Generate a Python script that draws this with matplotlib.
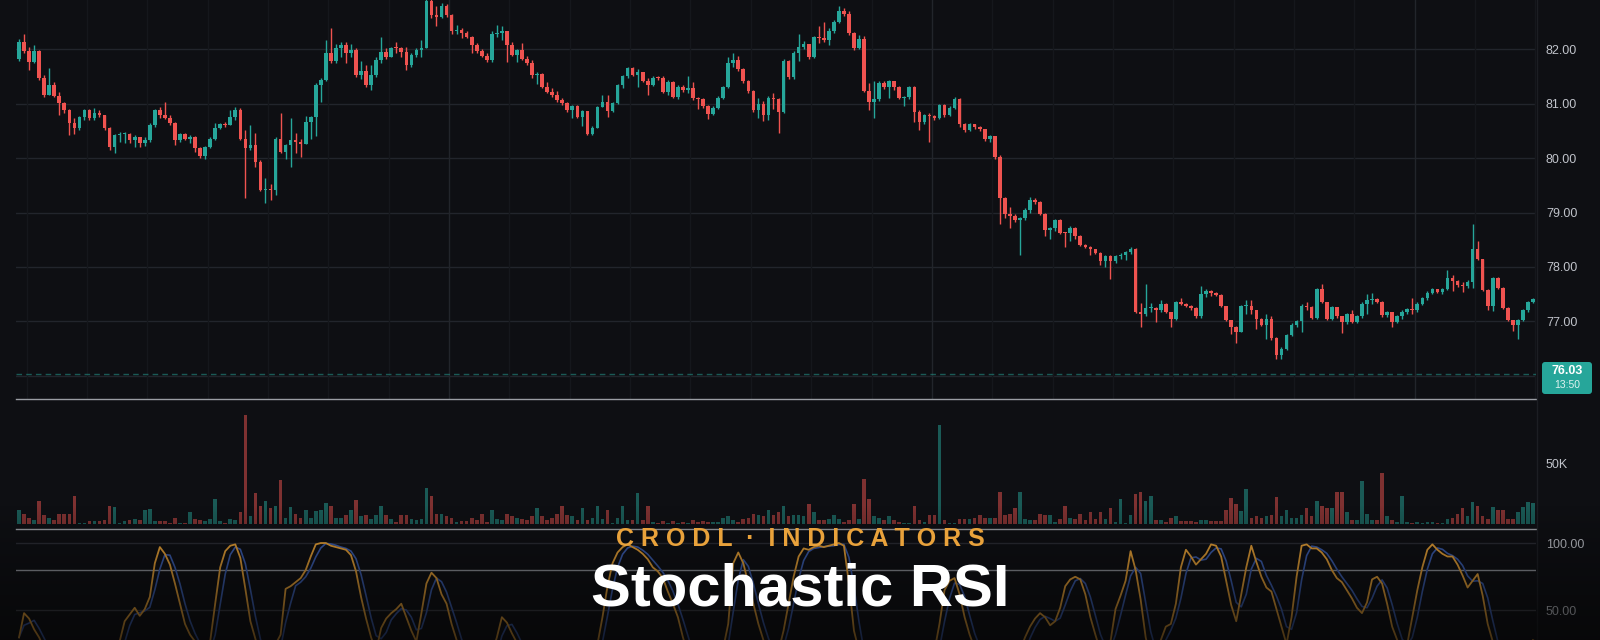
import numpy as np
import pandas as pd
import matplotlib
matplotlib.use("Agg")
import matplotlib.pyplot as plt
from matplotlib.lines import Line2D
from matplotlib.patches import FancyBboxPatch
from matplotlib.transforms import IdentityTransform

plt.rcParams['font.family'] = ['Liberation Sans', 'DejaVu Sans']

# colours
BG = '#0e0f13'
UP = '#26a69a'
DOWN = '#ef5350'
VOL_UP = '#1a5a56'
VOL_DOWN = '#7e3131'
LABEL = '#c0c3ca'

# ---- data (5 min candles) ----
first_open = 81.82
closes = [
    82.14, 81.96, 81.77, 81.96, 81.48, 81.16, 81.34, 81.14, 81.02, 80.88,
    80.64, 80.55, 80.76, 80.88, 80.73, 80.83, 80.79, 80.55, 80.21, 80.42,
    80.44, 80.45, 80.33, 80.38, 80.28, 80.33, 80.61, 80.88, 80.79, 80.73,
    80.65, 80.34, 80.44, 80.36, 80.39, 80.18, 80.04, 80.21, 80.36, 80.55,
    80.63, 80.61, 80.75, 80.88, 80.36, 80.18, 80.24, 79.93, 79.41, 79.44,
    79.41, 80.36, 80.12, 80.24, 80.34, 80.29, 80.25, 80.66, 80.75, 81.34,
    81.44, 81.94, 81.79, 82.03, 82.08, 81.94, 81.98, 81.53, 81.60, 81.34,
    81.53, 81.80, 81.95, 81.86, 82.03, 82.02, 81.95, 81.71, 81.90, 81.98,
    82.03, 82.88, 82.63, 82.60, 82.79, 82.63, 82.33, 82.36, 82.30, 82.23,
    82.08, 81.96, 81.88, 81.80, 82.29, 82.30, 82.33, 82.08, 81.90, 81.99,
    81.83, 81.74, 81.53, 81.55, 81.30, 81.22, 81.16, 81.07, 81.01, 80.88,
    80.96, 80.75, 80.87, 80.45, 80.56, 80.94, 81.04, 80.87, 81.02, 81.34,
    81.50, 81.65, 81.53, 81.59, 81.42, 81.34, 81.48, 81.47, 81.22, 81.40,
    81.13, 81.31, 81.25, 81.28, 81.10, 81.08, 80.95, 80.81, 80.92, 81.11,
    81.30, 81.75, 81.80, 81.64, 81.41, 81.23, 80.89, 81.00, 80.80, 81.11,
    81.08, 80.85, 81.79, 81.49, 81.94, 82.05, 82.09, 81.86, 82.23, 82.20,
    82.17, 82.33, 82.50, 82.71, 82.65, 82.30, 82.02, 82.18, 81.23, 81.04,
    81.08, 81.38, 81.30, 81.42, 81.30, 81.11, 81.12, 81.30, 80.85, 80.66,
    80.79, 80.77, 80.74, 80.98, 80.79, 80.92, 81.08, 80.62, 80.51, 80.62,
    80.57, 80.53, 80.35, 80.40, 80.02, 79.27, 78.97, 78.93, 78.86, 78.89,
    79.05, 79.23, 79.20, 78.97, 78.67, 78.71, 78.86, 78.63, 78.62, 78.71,
    78.57, 78.41, 78.37, 78.32, 78.26, 78.11, 78.20, 78.11, 78.20, 78.22,
    78.27, 78.32, 77.17, 77.13, 77.24, 77.25, 77.20, 77.32, 77.17, 77.05,
    77.35, 77.32, 77.29, 77.24, 77.09, 77.50, 77.56, 77.52, 77.49, 77.28,
    77.02, 76.90, 76.81, 77.28, 77.29, 77.20, 77.05, 76.94, 77.05, 76.69,
    76.38, 76.49, 76.75, 76.94, 77.00, 77.28, 77.26, 77.07, 77.59, 77.35,
    77.05, 77.26, 77.09, 76.98, 77.13, 76.99, 77.09, 77.32, 77.39, 77.41,
    77.35, 77.11, 77.17, 76.98, 77.09, 77.17, 77.22, 77.20, 77.32, 77.43,
    77.52, 77.59, 77.54, 77.59, 77.80, 77.74, 77.66, 77.65, 77.73, 78.32,
    78.14, 77.58, 77.28, 77.80, 77.62, 77.24, 77.02, 76.94, 77.02, 77.20,
    77.35, 77.41,
]
highs = [
    82.18, 82.29, 82.04, 82.08, 81.98, 81.53, 81.65, 81.40, 81.22, 81.04,
    80.91, 80.73, 80.77, 80.91, 80.91, 80.93, 80.88, 80.79, 80.58, 80.45,
    80.48, 80.48, 80.47, 80.42, 80.39, 80.39, 80.64, 80.91, 80.94, 81.04,
    80.79, 80.67, 80.47, 80.47, 80.42, 80.41, 80.21, 80.23, 80.39, 80.64,
    80.65, 80.67, 80.88, 80.94, 80.93, 80.52, 80.61, 80.47, 79.96, 79.63,
    79.53, 80.38, 80.82, 80.26, 80.73, 80.47, 80.36, 80.77, 80.77, 81.38,
    81.47, 82.17, 82.39, 82.09, 82.13, 82.13, 82.09, 82.03, 81.79, 81.71,
    81.71, 81.86, 82.23, 82.03, 82.05, 82.13, 82.05, 82.05, 81.94, 82.03,
    82.17, 82.95, 82.92, 82.79, 82.85, 82.83, 82.65, 82.45, 82.39, 82.33,
    82.25, 82.12, 82.00, 81.93, 82.33, 82.45, 82.42, 82.33, 82.14, 82.01,
    82.11, 81.87, 81.80, 81.59, 81.57, 81.40, 81.28, 81.23, 81.10, 81.04,
    80.98, 80.98, 80.88, 80.87, 80.59, 80.96, 81.16, 81.16, 81.04, 81.37,
    81.53, 81.68, 81.68, 81.63, 81.59, 81.48, 81.51, 81.50, 81.51, 81.44,
    81.42, 81.34, 81.34, 81.51, 81.40, 81.13, 81.10, 80.97, 80.95, 81.14,
    81.33, 81.86, 81.94, 81.87, 81.66, 81.44, 81.25, 81.11, 81.05, 81.15,
    81.20, 81.11, 81.82, 81.80, 81.97, 82.28, 82.15, 82.10, 82.25, 82.42,
    82.50, 82.39, 82.53, 82.80, 82.76, 82.70, 82.32, 82.26, 82.25, 81.38,
    81.41, 81.42, 81.41, 81.44, 81.42, 81.32, 81.15, 81.33, 81.32, 80.88,
    80.81, 80.83, 80.80, 81.00, 80.99, 80.95, 81.12, 81.10, 80.64, 80.65,
    80.63, 80.59, 80.54, 80.43, 80.40, 80.05, 79.28, 79.10, 78.98, 78.92,
    79.08, 79.29, 79.26, 79.21, 78.99, 78.74, 78.88, 78.88, 78.65, 78.76,
    78.74, 78.59, 78.42, 78.39, 78.33, 78.27, 78.22, 78.22, 78.22, 78.25,
    78.29, 78.37, 78.34, 77.34, 77.69, 77.34, 77.26, 77.39, 77.33, 77.18,
    77.37, 77.43, 77.34, 77.30, 77.26, 77.65, 77.59, 77.57, 77.53, 77.50,
    77.29, 77.03, 76.92, 77.30, 77.39, 77.39, 77.21, 77.06, 77.13, 77.09,
    76.72, 76.52, 76.77, 76.97, 77.02, 77.32, 77.35, 77.28, 77.62, 77.69,
    77.36, 77.28, 77.27, 77.10, 77.15, 77.20, 77.11, 77.35, 77.50, 77.52,
    77.42, 77.37, 77.19, 77.18, 77.11, 77.20, 77.25, 77.43, 77.35, 77.45,
    77.55, 77.61, 77.60, 77.61, 77.95, 77.86, 77.76, 77.73, 77.76, 78.78,
    78.48, 78.15, 77.59, 77.82, 77.81, 77.63, 77.26, 77.03, 77.04, 77.22,
    77.37, 77.43,
]
lows = [
    81.79, 81.93, 81.62, 81.74, 81.44, 81.13, 81.16, 81.12, 80.79, 80.82,
    80.42, 80.45, 80.52, 80.70, 80.70, 80.70, 80.76, 80.52, 80.15, 80.09,
    80.30, 80.27, 80.27, 80.21, 80.21, 80.23, 80.30, 80.58, 80.73, 80.71,
    80.61, 80.24, 80.30, 80.33, 80.27, 80.12, 80.01, 79.99, 80.18, 80.34,
    80.53, 80.58, 80.61, 80.70, 80.33, 79.26, 80.15, 79.84, 79.40, 79.17,
    79.23, 79.32, 80.09, 79.98, 79.84, 80.10, 80.02, 80.25, 80.36, 80.40,
    81.04, 81.41, 81.75, 81.75, 81.86, 81.75, 81.86, 81.49, 81.45, 81.30,
    81.26, 81.49, 81.75, 81.83, 81.86, 81.94, 81.86, 81.62, 81.68, 81.86,
    81.86, 82.02, 82.57, 82.42, 82.57, 82.60, 82.29, 82.29, 82.20, 82.20,
    81.93, 81.93, 81.85, 81.77, 81.77, 82.23, 82.17, 81.77, 81.87, 81.77,
    81.80, 81.71, 81.48, 81.37, 81.28, 81.19, 81.13, 81.04, 80.98, 80.85,
    80.73, 80.73, 80.59, 80.42, 80.42, 80.55, 80.94, 80.76, 80.85, 80.99,
    81.28, 81.47, 81.50, 81.31, 81.40, 81.16, 81.32, 81.44, 81.20, 81.16,
    81.10, 81.08, 81.22, 81.19, 81.07, 80.90, 80.92, 80.72, 80.79, 80.90,
    81.08, 81.28, 81.68, 81.60, 81.38, 81.20, 80.85, 80.74, 80.68, 80.70,
    80.90, 80.47, 80.83, 81.45, 81.46, 81.79, 82.00, 81.82, 81.84, 82.12,
    82.13, 82.08, 82.30, 82.48, 82.62, 82.27, 81.98, 82.00, 81.21, 80.89,
    80.74, 81.05, 81.27, 81.11, 81.26, 81.08, 80.95, 81.08, 80.66, 80.51,
    80.62, 80.29, 80.70, 80.72, 80.75, 80.78, 80.90, 80.58, 80.48, 80.49,
    80.54, 80.50, 80.32, 80.30, 79.98, 78.78, 78.90, 78.71, 78.82, 78.22,
    78.87, 79.00, 79.16, 78.95, 78.56, 78.52, 78.66, 78.60, 78.37, 78.48,
    78.52, 78.38, 78.34, 78.22, 78.23, 78.03, 77.99, 77.77, 78.08, 78.14,
    78.12, 78.24, 77.15, 76.90, 77.09, 77.18, 76.98, 77.18, 77.15, 76.90,
    77.03, 77.30, 77.26, 77.20, 77.06, 77.07, 77.44, 77.46, 77.46, 77.26,
    77.00, 76.77, 76.60, 76.80, 77.13, 77.13, 76.86, 76.92, 76.68, 76.66,
    76.30, 76.30, 76.47, 76.73, 76.90, 76.80, 77.20, 77.04, 77.05, 77.33,
    77.02, 77.03, 77.06, 76.79, 76.95, 76.96, 76.96, 77.07, 77.13, 77.32,
    77.33, 77.08, 77.08, 76.90, 76.96, 77.05, 77.14, 77.13, 77.18, 77.30,
    77.40, 77.50, 77.52, 77.50, 77.57, 77.56, 77.63, 77.54, 77.62, 77.62,
    78.12, 77.55, 77.20, 77.19, 77.60, 77.22, 77.00, 76.83, 76.68, 77.00,
    77.18, 77.33,
]
# volume in thousands
volume_k = [
    11.7, 7.7, 5.0, 2.7, 18.5, 7.0, 5.0, 2.7, 8.4, 8.4,
    8.4, 22.5, 1.0, 1.0, 2.3, 2.0, 2.0, 2.7, 15.0, 13.8,
    1.0, 2.0, 2.7, 3.7, 2.7, 11.7, 12.0, 2.3, 2.3, 2.3,
    1.0, 4.4, 1.0, 1.0, 9.4, 4.0, 2.7, 2.3, 3.7, 20.5,
    2.0, 1.0, 3.7, 2.7, 9.4, 89.6, 6.0, 25.2, 14.4, 18.5,
    12.8, 14.4, 35.9, 5.0, 13.4, 7.7, 4.4, 11.7, 5.0, 10.4,
    11.0, 17.0, 14.4, 4.4, 4.4, 7.0, 11.7, 19.5, 6.0, 7.0,
    3.7, 7.0, 15.0, 7.0, 3.7, 1.7, 7.0, 7.0, 3.7, 2.7,
    3.7, 29.5, 22.5, 8.4, 8.4, 6.0, 5.0, 1.7, 2.3, 2.3,
    4.4, 2.7, 8.4, 1.7, 11.0, 3.7, 2.7, 7.7, 6.0, 4.4,
    3.7, 2.7, 6.0, 12.8, 6.0, 2.7, 4.4, 8.4, 15.0, 7.0,
    6.0, 2.7, 12.8, 2.7, 4.4, 14.4, 3.7, 11.7, 1.0, 5.0,
    14.4, 2.7, 2.7, 25.2, 2.7, 15.0, 1.7, 1.0, 2.3, 1.0,
    2.0, 1.0, 1.7, 1.0, 2.7, 1.7, 2.0, 1.3, 1.3, 1.7,
    4.4, 6.0, 2.7, 1.7, 3.7, 4.4, 8.4, 7.0, 6.0, 11.0,
    7.0, 9.4, 14.4, 6.0, 7.0, 7.0, 6.0, 16.0, 9.4, 2.7,
    2.7, 3.7, 7.0, 3.7, 1.7, 2.7, 16.0, 3.7, 37.2, 20.5,
    6.0, 5.0, 2.7, 6.0, 2.7, 1.7, 1.0, 1.0, 14.4, 2.7,
    1.7, 7.0, 7.0, 80.9, 2.7, 1.0, 1.0, 3.7, 3.7, 3.7,
    5.0, 7.0, 4.4, 5.0, 5.0, 26.2, 7.0, 8.4, 12.8, 26.2,
    3.7, 2.7, 2.7, 8.4, 7.0, 7.0, 1.7, 3.7, 14.4, 5.0,
    3.7, 8.4, 2.7, 9.4, 3.7, 9.4, 3.7, 12.8, 1.7, 20.5,
    1.0, 7.0, 24.5, 26.2, 18.5, 22.8, 2.7, 2.7, 1.7, 5.0,
    6.0, 2.3, 2.3, 2.3, 1.7, 2.7, 2.7, 2.0, 2.0, 2.0,
    11.0, 21.0, 16.0, 10.4, 28.5, 5.0, 6.0, 5.0, 6.0, 7.0,
    21.8, 6.0, 11.7, 4.4, 4.4, 7.0, 12.8, 6.0, 18.5, 14.4,
    12.8, 12.8, 26.2, 26.2, 9.4, 2.7, 2.7, 35.2, 8.4, 2.7,
    2.7, 42.0, 6.0, 2.7, 1.7, 22.8, 1.7, 1.0, 1.7, 1.0,
    1.7, 1.7, 1.0, 1.0, 3.7, 5.0, 8.4, 12.8, 6.0, 17.8,
    15.0, 6.0, 3.7, 13.8, 11.7, 11.0, 3.7, 3.7, 9.4, 13.8,
    17.8, 17.0,
]
# Stochastic RSI %K (orange)
stoch_k = [
    30, 48, 44, 36, 30, 22, 15, 10, 6, 3,
    0, 0, 4, 10, 16, 22, 18, 12, 4, 10,
    27, 42, 47, 52, 46, 51, 60, 85, 97, 92,
    84, 70, 55, 40, 32, 27, 18, 14, 27, 55,
    82, 94, 98, 99, 89, 66, 42, 29, 15, 6,
    10, 25, 32, 66, 68, 71, 74, 80, 90, 99,
    100, 100, 98, 97, 96, 95, 91, 79, 60, 44,
    30, 20, 37, 44, 48, 51, 55, 45, 35, 27,
    48, 70, 78, 74, 62, 55, 40, 28, 18, 12,
    6, 2, 0, 4, 18, 30, 45, 41, 33, 26,
    18, 10, 4, 2, 0, 0, 0, 0, 0, 2,
    6, 4, 8, 4, 10, 25, 45, 68, 85, 93,
    97, 99, 97, 95, 92, 88, 82, 79, 74, 64,
    55, 45, 30, 18, 10, 6, 2, 0, 4, 12,
    22, 40, 85, 93, 85, 70, 55, 40, 28, 20,
    14, 20, 35, 55, 75, 90, 96, 95, 97, 98,
    97, 98, 99, 100, 98, 70, 35, 20, 5, 0,
    0, 4, 6, 10, 8, 4, 2, 6, 2, 0,
    2, 6, 20, 40, 65, 72, 74, 62, 45, 32,
    22, 16, 8, 6, 2, 0, 0, 2, 8, 20,
    30, 38, 44, 48, 45, 39, 42, 52, 68, 73,
    75, 73, 62, 45, 32, 20, 18, 27, 51, 61,
    72, 94, 80, 58, 30, 15, 18, 28, 38, 40,
    55, 82, 95, 90, 84, 88, 92, 99, 98, 90,
    72, 54, 42, 62, 82, 98, 86, 75, 67, 64,
    51, 38, 25, 45, 75, 98, 99, 96, 96, 93,
    88, 80, 74, 71, 65, 59, 52, 48, 56, 73,
    75, 70, 55, 38, 28, 20, 25, 45, 65, 82,
    95, 99, 95, 92, 90, 90, 84, 76, 67, 72,
    77, 61, 40, 27, 15, 5, 0, 0, 5, 12,
    20, 28,
]
price_ticks = [77, 78, 79, 80, 81, 82]
last_price = 76.03
last_time = "13:50"

closes = np.array(closes)
highs = np.array(highs)
lows = np.array(lows)
opens = np.r_[first_open, closes[:-1]]
n = len(closes)
x = np.arange(n)
up = closes >= opens
# %D = 3 period average of %K
stoch_d = pd.Series(stoch_k, dtype=float).rolling(3, min_periods=1).mean().values

W, H = 1600, 640
def fx(px):
    return px / W
def fy(py):
    return 1 - py / H
def rect(top, bottom):
    return [fx(16), fy(bottom), fx(1536) - fx(16), (bottom - top) / H]

fig = plt.figure(figsize=(16, 6.4), dpi=100, facecolor=BG)
ax_p = fig.add_axes(rect(0, 399))
ax_v = fig.add_axes(rect(399, 528.6))
ax_s = fig.add_axes(rect(528.6, 640))

for ax in (ax_p, ax_v, ax_s):
    ax.set_facecolor(BG)
    for s in ax.spines.values():
        s.set_visible(False)
    ax.set_xlim(-0.6, 301.6)
    ax.set_xticks([])
    ax.yaxis.tick_right()
    ax.tick_params(axis='y', length=0, pad=7.2, labelsize=9, labelcolor=LABEL)

# ---- price panel ----
ax_p.set_ylim(75.572, 82.906)
for p in range(76, 84):
    ax_p.axhline(p, color='#22252c', lw=1, zorder=0)
for k in range(26):
    xv = 1.5 + 12 * k
    major = (xv - 85.5) % 96 == 0
    ax_p.axvline(xv, color='#22252b' if major else '#15171c', lw=1, zorder=0)

cols = np.where(up, UP, DOWN)
ax_p.vlines(x, lows, highs, colors=cols, lw=1, zorder=2)
body_lo = np.minimum(opens, closes)
body_h = np.maximum(np.abs(closes - opens), 0.018)
ax_p.bar(x, body_h, bottom=body_lo, width=0.72, color=cols, zorder=3, linewidth=0)
ax_p.axhline(last_price, color=UP, alpha=0.5, lw=1, ls=(0, (4, 3)), zorder=1)

ax_p.set_yticks(price_ticks)
ax_p.set_yticklabels([f"{t:.2f}" for t in price_ticks])
# the 83.00 label sits mostly above the top edge, as in the source
ax_p.text(1 + 10 / 1520, 83, "83.00", transform=ax_p.get_yaxis_transform(),
          color=LABEL, fontsize=9, va='center', ha='left', clip_on=False)

# ---- volume panel ----
ax_v.set_ylim(-4.0, 102.7)
ax_v.bar(x, volume_k, width=0.72, color=np.where(up, VOL_UP, VOL_DOWN), linewidth=0)
ax_v.set_yticks([50])
ax_v.set_yticklabels(["50K"])

# ---- stochastic RSI panel ----
ax_s.set_ylim(28.1, 110.7)
ax_s.axhline(100, color='#2a2c33', lw=1, zorder=0)
ax_s.axhline(80, color='#8f929a', lw=1, zorder=0)
ax_s.axhline(50, color='#3a3c44', lw=1, zorder=0)
ax_s.plot(x, stoch_d, color='#3a5cae', lw=1.2, zorder=2)
ax_s.plot(x, stoch_k, color='#e6a036', lw=1.3, zorder=3)
ax_s.set_yticks([100, 50])
ax_s.set_yticklabels(["100.00", "50.00"])

# panel separators and price scale border
for py in (399, 528.6):
    fig.add_artist(Line2D([fx(16), fx(1536)], [fy(py), fy(py)], transform=fig.transFigure,
                          color='#9a9da3', lw=1, zorder=3))
fig.add_artist(Line2D([fx(1536.5), fx(1536.5)], [0, 1], transform=fig.transFigure,
                      color='#1c1e23', lw=1, zorder=3))

# last price tag
tag = FancyBboxPatch((1542, H - 394), 50, 32, boxstyle='round,pad=0,rounding_size=3',
                     transform=IdentityTransform(), facecolor=UP, edgecolor='none', zorder=4)
fig.add_artist(tag)
fig.text(fx(1567), fy(371.5), f"{last_price:.2f}", ha='center', va='center',
         fontsize=9, fontweight='bold', color='white', zorder=4)
fig.text(fx(1567), fy(385), last_time, ha='center', va='center',
         fontsize=7.5, color='#dff3f0', zorder=4)

# dark fade over the bottom
ov = fig.add_axes([0, 0, 1, fy(505)])
ov.set_zorder(5)
ov.axis('off')
fade = np.zeros((256, 1, 4))
fade[..., 0:3] = 0.02
fade[:, 0, 3] = 0.72 * np.linspace(0, 1, 256) ** 0.9
ov.imshow(fade, aspect='auto', extent=[0, 1, 0, 1], origin='upper')

# title
fig.text(0.5, fy(546), "C R O D L  ·  I N D I C A T O R S", ha='center', va='baseline',
         fontsize=18, fontweight='bold', color='#e9a23b', zorder=10)
fig.text(0.5, fy(606), "Stochastic RSI", ha='center', va='baseline',
         fontsize=43, fontweight='bold', color='white', zorder=10)

fig.savefig("out.png", dpi=100, facecolor=BG)
